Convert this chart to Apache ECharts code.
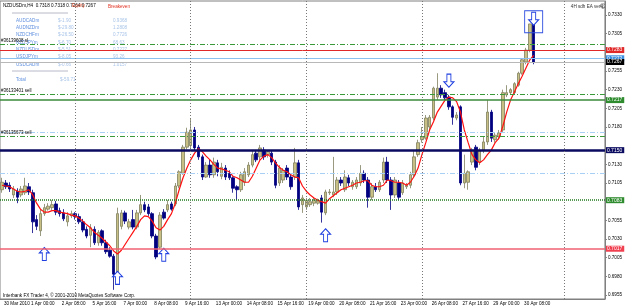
<!DOCTYPE html>
<html>
<head>
<meta charset="utf-8">
<script src="https://cdn.jsdelivr.net/npm/echarts@6/dist/echarts.min.js"></script>
<style>
  html, body { margin: 0; padding: 0; background: #fff; }
  #chart { width: 625px; height: 308px; }
</style>
</head>
<body>
<div id="chart"></div>
<script>
// trading days shown on the H4 chart, and the six bars of a day
var days = ['31 Mar', '1 Apr', '2 Apr', '5 Apr', '6 Apr', '7 Apr', '8 Apr', '9 Apr', '12 Apr', '13 Apr', '14 Apr',
    '15 Apr', '16 Apr', '19 Apr', '20 Apr', '21 Apr', '22 Apr', '23 Apr', '26 Apr', '27 Apr', '28 Apr', '29 Apr', '30 Apr'];
var hours = ['00:00', '04:00', '08:00', '12:00', '16:00', '20:00'];
var firstBar = '30 Mar 20:00';
var emptySlots = 18;

// [open, close, low, high]
var candles = [
    [0.7096, 0.7106, 0.7092, 0.7112], [0.7105, 0.7100, 0.7097, 0.7109], [0.7102, 0.7097, 0.7093, 0.7106],
    [0.7089, 0.7097, 0.7085, 0.7101], [0.7094, 0.7086, 0.7078, 0.7098], [0.7089, 0.7097, 0.7086, 0.7101],
    [0.7092, 0.7101, 0.7089, 0.7112], [0.7100, 0.7093, 0.7089, 0.7105], [0.7092, 0.7053, 0.7038, 0.7096],
    [0.7056, 0.7047, 0.7042, 0.7062], [0.7041, 0.7064, 0.7034, 0.7069], [0.7064, 0.7072, 0.7061, 0.7077],
    [0.7070, 0.7074, 0.7068, 0.7078], [0.7072, 0.7076, 0.7069, 0.7082], [0.7077, 0.7066, 0.7062, 0.7081],
    [0.7068, 0.7064, 0.7060, 0.7072], [0.7065, 0.7057, 0.7054, 0.7070], [0.7053, 0.7061, 0.7047, 0.7066],
    [0.7061, 0.7064, 0.7058, 0.7068], [0.7064, 0.7060, 0.7056, 0.7066], [0.7060, 0.7053, 0.7050, 0.7064],
    [0.7053, 0.7042, 0.7039, 0.7057], [0.7043, 0.7034, 0.7031, 0.7047], [0.7035, 0.7045, 0.7019, 0.7050],
    [0.7043, 0.7025, 0.7022, 0.7047], [0.7025, 0.7039, 0.7021, 0.7042], [0.7041, 0.7025, 0.7021, 0.7043],
    [0.7025, 0.7013, 0.7010, 0.7029], [0.7015, 0.7007, 0.7005, 0.7019], [0.7007, 0.6983, 0.6962, 0.7010],
    [0.6986, 0.7064, 0.6981, 0.7072], [0.7047, 0.7065, 0.7043, 0.7069], [0.7065, 0.7054, 0.7050, 0.7068],
    [0.7046, 0.7053, 0.7043, 0.7057], [0.7056, 0.7046, 0.7043, 0.7069], [0.7046, 0.7065, 0.7043, 0.7069],
    [0.7065, 0.7076, 0.7062, 0.7089], [0.7076, 0.7069, 0.7066, 0.7080], [0.7073, 0.7064, 0.7061, 0.7077],
    [0.7064, 0.7034, 0.7031, 0.7066], [0.7034, 0.7006, 0.7003, 0.7037], [0.7019, 0.7062, 0.7017, 0.7066],
    [0.7066, 0.7058, 0.7056, 0.7070], [0.7069, 0.7076, 0.7066, 0.7082], [0.7077, 0.7070, 0.7068, 0.7080],
    [0.7077, 0.7101, 0.7074, 0.7105], [0.7101, 0.7120, 0.7098, 0.7122], [0.7118, 0.7153, 0.7116, 0.7156],
    [0.7153, 0.7173, 0.7150, 0.7179], [0.7155, 0.7176, 0.7152, 0.7192], [0.7176, 0.7152, 0.7149, 0.7180],
    [0.7153, 0.7140, 0.7136, 0.7156], [0.7140, 0.7113, 0.7109, 0.7143], [0.7113, 0.7129, 0.7112, 0.7133],
    [0.7129, 0.7116, 0.7112, 0.7136], [0.7116, 0.7133, 0.7112, 0.7139], [0.7132, 0.7120, 0.7114, 0.7136],
    [0.7114, 0.7126, 0.7110, 0.7132], [0.7125, 0.7113, 0.7109, 0.7129], [0.7118, 0.7112, 0.7109, 0.7122],
    [0.7112, 0.7098, 0.7092, 0.7114], [0.7100, 0.7096, 0.7082, 0.7102], [0.7096, 0.7116, 0.7093, 0.7120],
    [0.7106, 0.7120, 0.7101, 0.7125], [0.7116, 0.7129, 0.7113, 0.7133], [0.7129, 0.7143, 0.7126, 0.7149],
    [0.7145, 0.7136, 0.7133, 0.7149], [0.7140, 0.7152, 0.7136, 0.7156], [0.7149, 0.7140, 0.7136, 0.7153],
    [0.7143, 0.7147, 0.7139, 0.7149], [0.7145, 0.7133, 0.7129, 0.7149], [0.7133, 0.7102, 0.7098, 0.7136],
    [0.7105, 0.7125, 0.7101, 0.7129], [0.7109, 0.7122, 0.7105, 0.7125], [0.7125, 0.7113, 0.7109, 0.7129],
    [0.7113, 0.7100, 0.7096, 0.7116], [0.7113, 0.7132, 0.7109, 0.7152], [0.7132, 0.7073, 0.7069, 0.7136],
    [0.7076, 0.7085, 0.7065, 0.7089], [0.7073, 0.7082, 0.7069, 0.7085], [0.7076, 0.7080, 0.7073, 0.7085],
    [0.7078, 0.7082, 0.7074, 0.7085], [0.7078, 0.7081, 0.7076, 0.7084], [0.7085, 0.7066, 0.7052, 0.7089],
    [0.7065, 0.7093, 0.7062, 0.7096], [0.7092, 0.7093, 0.7089, 0.7097], [0.7089, 0.7093, 0.7086, 0.7140],
    [0.7093, 0.7109, 0.7089, 0.7113], [0.7109, 0.7105, 0.7101, 0.7113], [0.7096, 0.7113, 0.7093, 0.7122],
    [0.7112, 0.7105, 0.7101, 0.7116], [0.7100, 0.7106, 0.7096, 0.7109], [0.7100, 0.7109, 0.7097, 0.7113],
    [0.7105, 0.7118, 0.7101, 0.7129], [0.7118, 0.7109, 0.7105, 0.7122], [0.7109, 0.7086, 0.7072, 0.7113],
    [0.7086, 0.7100, 0.7082, 0.7105], [0.7100, 0.7096, 0.7093, 0.7105], [0.7096, 0.7106, 0.7093, 0.7109],
    [0.7109, 0.7133, 0.7105, 0.7139], [0.7133, 0.7109, 0.7105, 0.7140], [0.7109, 0.7089, 0.7069, 0.7113],
    [0.7089, 0.7109, 0.7085, 0.7113], [0.7105, 0.7086, 0.7082, 0.7109], [0.7092, 0.7105, 0.7089, 0.7109],
    [0.7100, 0.7102, 0.7097, 0.7105], [0.7102, 0.7116, 0.7098, 0.7120], [0.7116, 0.7140, 0.7113, 0.7149],
    [0.7143, 0.7159, 0.7140, 0.7163], [0.7163, 0.7167, 0.7159, 0.7180], [0.7165, 0.7192, 0.7163, 0.7196],
    [0.7180, 0.7193, 0.7176, 0.7196], [0.7192, 0.7232, 0.7189, 0.7234], [0.7220, 0.7232, 0.7216, 0.7252],
    [0.7232, 0.7223, 0.7219, 0.7236], [0.7226, 0.7219, 0.7216, 0.7230], [0.7220, 0.7207, 0.7203, 0.7223],
    [0.7207, 0.7193, 0.7183, 0.7209], [0.7192, 0.7196, 0.7189, 0.7200], [0.7207, 0.7105, 0.7102, 0.7209],
    [0.7105, 0.7118, 0.7098, 0.7143], [0.7106, 0.7120, 0.7096, 0.7122], [0.7133, 0.7149, 0.7129, 0.7152],
    [0.7153, 0.7126, 0.7122, 0.7156], [0.7133, 0.7149, 0.7129, 0.7152], [0.7149, 0.7160, 0.7145, 0.7167],
    [0.7160, 0.7200, 0.7156, 0.7216], [0.7200, 0.7165, 0.7160, 0.7203], [0.7163, 0.7169, 0.7159, 0.7172],
    [0.7167, 0.7172, 0.7163, 0.7176], [0.7176, 0.7226, 0.7172, 0.7230], [0.7223, 0.7226, 0.7220, 0.7236],
    [0.7226, 0.7230, 0.7223, 0.7232], [0.7226, 0.7238, 0.7223, 0.7240], [0.7236, 0.7252, 0.7234, 0.7254],
    [0.7252, 0.7270, 0.7250, 0.7272], [0.7267, 0.7283, 0.7264, 0.7286], [0.7283, 0.7318, 0.7280, 0.7318],
    [0.7318, 0.7267, 0.7264, 0.7318]
];

// red moving average of the indicator, one value per bar
var ema = [
    0.7102, 0.7101, 0.7100, 0.7097, 0.7094, 0.7093, 0.7094, 0.7096, 0.7089, 0.7078,
    0.7070, 0.7066, 0.7066, 0.7068, 0.7068, 0.7066, 0.7065, 0.7064, 0.7062, 0.7061,
    0.7058, 0.7054, 0.7049, 0.7045, 0.7039, 0.7035, 0.7031, 0.7026, 0.7021, 0.7014,
    0.7010, 0.7015, 0.7023, 0.7031, 0.7039, 0.7047, 0.7056, 0.7061, 0.7060, 0.7054,
    0.7045, 0.7042, 0.7047, 0.7056, 0.7064, 0.7078, 0.7096, 0.7112, 0.7125, 0.7136,
    0.7145, 0.7151, 0.7147, 0.7141, 0.7136, 0.7130, 0.7125, 0.7124, 0.7122, 0.7120,
    0.7114, 0.7112, 0.7109, 0.7106, 0.7106, 0.7114, 0.7125, 0.7136, 0.7141, 0.7143,
    0.7139, 0.7132, 0.7126, 0.7122, 0.7120, 0.7116, 0.7113, 0.7112, 0.7101, 0.7094,
    0.7089, 0.7085, 0.7082, 0.7080, 0.7078, 0.7084, 0.7088, 0.7092, 0.7096, 0.7098,
    0.7100, 0.7102, 0.7105, 0.7106, 0.7108, 0.7108, 0.7102, 0.7100, 0.7100, 0.7102,
    0.7109, 0.7108, 0.7106, 0.7106, 0.7105, 0.7102, 0.7106, 0.7114, 0.7125, 0.7143,
    0.7159, 0.7176, 0.7187, 0.7200, 0.7208, 0.7216, 0.7220, 0.7219, 0.7214, 0.7200,
    0.7176, 0.7159, 0.7143, 0.7136, 0.7132, 0.7136, 0.7143, 0.7149, 0.7159, 0.7165,
    0.7181, 0.7200, 0.7216, 0.7227, 0.7238, 0.7248, 0.7259, 0.7270, 0.7276
];

var yTicks = [0.7330, 0.7305, 0.7255, 0.7230, 0.7205, 0.7180, 0.7130, 0.7105, 0.7055, 0.7030, 0.7005, 0.6980, 0.6955];
var yMin = 0.69497;
var yMax = 0.73487;

// horizontal objects: price, colour, style, width, axis tag, order text
var hLevels = [0.7291, 0.7283, 0.7272, 0.7267, 0.7224, 0.7216, 0.7173, 0.7168, 0.7149, 0.7118, 0.7082, 0.7017];
var hColors = ['#3a9a3a', '#e02828', '#8cc0f0', '#b8b8b8', '#3a9a3a', '#3a8a3a', '#a8d0f4', '#3a9a3a', '#0a0a60', '#a8d0f4', '#1f7a1f', '#f06070'];
var hStyles = ['dashdot', 'solid', 'solid', 'solid', 'dashdot', 'solid', 'dashdot', 'dashdot', 'solid', 'dashdot', 'dotted', 'solid'];
var hWidths = [1, 1, 1, 1, 1, 1.5, 1, 1, 2.5, 1, 1.5, 1.5];
var hTags = ['', '0.7283', '0.7272', '0.7267', '', '0.7217', '', '', '0.7150', '', '0.7083', '0.7017'];
var hTagBg = ['', '#e02828', '#3d8fe0', '#000000', '', '#2e8b2e', '', '', '#0a0a60', '', '#2e8b2e', '#f04050'];
var hOrders = ['#36139608 sl', '', '', '', '#36133401 sell', '', '', '#36135673 sell', '', '', '', ''];

// bar positions of the dotted period separators
var separators = [19, 49, 79, 109, 146];

var upArrows = [[11, 0.7010], [30, 0.6978], [42, 0.7009], [84, 0.7035]];
var downArrows = [[116, 0.7242], [138, 0.7325]];
var signalBox = [[138, 0.7321]];

var pairs = ['AUDCADm', 'AUDNZDm', 'NZDCHFm', 'NZDJPYm', 'NZDUSDm', 'USDJPYm', 'USDCADm'];
var pairProfit = ['$-1.90', '$-29.80', '$-26.50', '$-6.70', '$-5.51', '$-8.05', '$-0.66'];
var pairBreakeven = ['0.9368', '1.2808', '0.7726', '68.63', '0.7227', '93.26', '1.0157'];
var totalProfit = '$-59.71';

var categories = [firstBar];
days.forEach(function(d) {
    hours.forEach(function(h) { categories.push(d + ' ' + h); });
});
var barCount = categories.length;
for (var k = 0; k < emptySlots; k++) categories.push('next ' + (k + 1));

function isTimeTick(idx) {
    return idx === 0 || (idx >= 7 && idx < barCount && (idx - 7) % 8 === 0);
}

var dashTypes = { dashdot: [5, 2, 1, 2], dotted: [1, 1], solid: 'solid' };
var lineMarks = hLevels.map(function(v, i) {
    var lbl = { show: false };
    if (hTags[i]) {
        lbl = {
            show: true, position: 'end', formatter: hTags[i], distance: 1,
            color: '#fff', backgroundColor: hTagBg[i], fontSize: 5, fontFamily: 'Liberation Sans',
            padding: [1, 2, 0, 1]
        };
    } else if (hOrders[i]) {
        lbl = {
            show: true, position: 'insideStartTop', formatter: hOrders[i], distance: 1,
            color: '#000', fontSize: 4.5, fontFamily: 'Liberation Sans'
        };
    }
    return { yAxis: v, lineStyle: { color: hColors[i], type: dashTypes[hStyles[i]], width: hWidths[i] }, label: lbl };
});
separators.forEach(function(s) {
    lineMarks.push({ xAxis: categories[s], lineStyle: { color: '#777', type: [1, 2], width: 1 }, label: { show: false } });
});

var txt = { fontSize: 4.6, fontFamily: 'Liberation Sans' };
var graphics = [
    { type: 'text', left: 3, top: 3, style: Object.assign({ text: 'NZDUSDm,H4  0.7318 0.7318 0.7264 0.7267', fill: '#000' }, txt) },
    { type: 'text', left: 72, top: 3, style: Object.assign({ text: 'Equity', fill: '#e05030' }, txt) },
    { type: 'text', left: 108, top: 4, style: Object.assign({ text: 'Breakeven', fill: '#e03020' }, txt) },
    { type: 'line', shape: { x1: 12, y1: 13, x2: 68, y2: 13 }, style: { stroke: '#b8b8c8', lineWidth: 1 } },
    { type: 'line', shape: { x1: 12, y1: 71, x2: 68, y2: 71 }, style: { stroke: '#b8b8c8', lineWidth: 1 } },
    { type: 'text', left: 16, top: 77, style: Object.assign({ text: 'Total', fill: '#5f8fdf' }, txt) },
    { type: 'text', left: 60, top: 77, style: Object.assign({ text: totalProfit, fill: '#a8c4e8' }, txt) },
    { type: 'text', right: 22, top: 4, style: Object.assign({ text: '4H sdh EA ver4', fill: '#333' }, txt) },
    { type: 'text', right: 19, top: 3, style: { text: '\u263a', fill: '#333', fontSize: 6, fontFamily: 'DejaVu Sans' } },
    { type: 'text', left: 3, top: 293, style: Object.assign({ text: 'Interbank FX Trader 4, \u00a9 2001-2010 MetaQuotes Software Corp.', fill: '#000' }, txt) }
];
pairs.forEach(function(p, i) {
    var y = 18 + i * 7.3;
    graphics.push({ type: 'text', left: 16, top: y, style: Object.assign({ text: p, fill: '#5f8fdf' }, txt) });
    graphics.push({ type: 'text', left: 58, top: y, style: Object.assign({ text: pairProfit[i], fill: '#a8c4e8' }, txt) });
    graphics.push({ type: 'text', left: 113, top: y, style: Object.assign({ text: pairBreakeven[i], fill: '#a8c4e8' }, txt) });
});

var option = {
    animation: false,
    backgroundColor: '#fff',
    grid: { left: 0, right: 18, top: 1, bottom: 9, show: true, borderColor: '#808080', borderWidth: 1 },
    xAxis: {
        type: 'category',
        data: categories,
        boundaryGap: true,
        axisLine: { lineStyle: { color: '#808080' } },
        axisTick: { alignWithLabel: true, length: 2, interval: function(idx) { return isTimeTick(idx); }, lineStyle: { color: '#808080' } },
        axisLabel: {
            interval: function(idx) { return isTimeTick(idx); },
            formatter: function(v, idx) { return idx === 0 ? '30 Mar 2010' : v; },
            align: 'left', margin: 2, fontSize: 4.6, color: '#000', fontFamily: 'Liberation Sans', padding: [0, 0, 0, 2]
        },
        splitLine: { show: false }
    },
    yAxis: {
        type: 'value',
        position: 'right',
        min: yMin,
        max: yMax,
        axisLine: { show: true, lineStyle: { color: '#808080' } },
        axisTick: { show: true, length: 2, customValues: yTicks, lineStyle: { color: '#808080' } },
        axisLabel: {
            customValues: yTicks, margin: 3, fontSize: 4.6, color: '#000', fontFamily: 'Liberation Sans',
            formatter: function(v) { return v.toFixed(4); }
        },
        splitLine: { show: false }
    },
    series: [{
        type: 'candlestick',
        data: candles.map(function(c) { return [c[0], c[1], c[2], c[3]]; }),
        barWidth: 3,
        itemStyle: { color: '#c8bf84', color0: '#000080', borderColor: '#808060', borderColor0: '#000080', borderWidth: 0.8 },
        markLine: { silent: true, precision: 4, symbol: ['none', 'none'], animation: false, data: lineMarks }
    }, {
        type: 'line',
        data: ema,
        showSymbol: false,
        lineStyle: { color: '#ff1010', width: 1.2 },
        z: 3
    }, {
        type: 'scatter',
        data: upArrows,
        symbol: 'path://M5,0 L10,5 L7,5 L7,12 L3,12 L3,5 L0,5 Z',
        symbolSize: [10, 13],
        itemStyle: { color: '#fff', borderColor: '#1f3fe0', borderWidth: 1, opacity: 1 },
        z: 4
    }, {
        type: 'scatter',
        data: downArrows,
        symbol: 'path://M3,0 L7,0 L7,7 L10,7 L5,12 L0,7 L3,7 Z',
        symbolSize: [10, 13],
        itemStyle: { color: '#fff', borderColor: '#1f3fe0', borderWidth: 1, opacity: 1 },
        z: 4
    }, {
        type: 'scatter',
        data: signalBox,
        symbol: 'rect',
        symbolSize: [18, 22],
        itemStyle: { color: 'rgba(0,0,0,0)', borderColor: '#3050e0', borderWidth: 1, opacity: 1 },
        z: 3
    }],
    graphic: graphics
};

echarts.init(document.getElementById('chart')).setOption(option);
</script>
</body>
</html>
